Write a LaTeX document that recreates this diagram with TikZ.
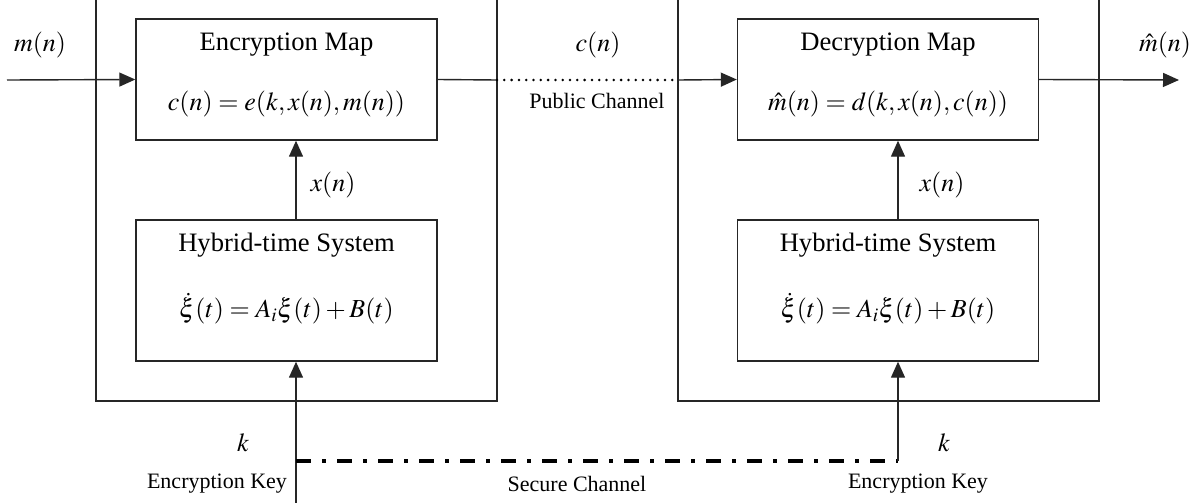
\documentclass[tikz,border=0pt]{standalone}
\usepackage{mathptmx}
\usepackage{fontspec}
\setmainfont{Liberation Serif}
\usetikzlibrary{arrows.meta}
\tikzset{
  x=1pt, y=-1pt,
  line/.style={line width=1.4pt, draw=black!85},
  arr/.style={line, -{Triangle[length=16pt,width=14pt]}},
  mapbox/.style={line, rectangle, inner sep=0pt, minimum width=301pt, minimum height=121pt},
  sysbox/.style={line, rectangle, inner sep=0pt, minimum width=301pt, minimum height=141pt},
  big/.style={font=\fontsize{26.6}{30}\selectfont},
  eq/.style={font=\fontsize{26}{30}\selectfont},
  small/.style={font=\fontsize{22}{26}\selectfont},
  publicch/.style={line width=2.8pt, draw=black, line cap=round, dash pattern=on 0pt off 7.3pt},
  securech/.style={line width=4pt, draw=black, dash pattern=on 15pt off 11pt on 4pt off 11pt},
}
\begin{document}
\begin{tikzpicture}
\useasboundingbox (0,0) rectangle (1202,503);
% transmitter and receiver enclosures (their tops run off the page)
\draw[line] (96,-10) rectangle (497,401);
\draw[line] (678,-10) rectangle (1099,401);
% blocks
\node[mapbox] (enc) at (286.5,79.5) {};
\node[mapbox] (dec) at (888,79.5) {};
\node[sysbox] (hybL) at (286.5,290.5) {};
\node[sysbox] (hybR) at (888,290.5) {};
\node[big] (encT) at (286.5,45) {Encryption Map};
\node[eq] (encF) at (286.5,104) {$c(n)=e(k,x(n),m(n))$};
\node[big] (decT) at (888,45) {Decryption Map};
\node[eq] (decF) at (888,104) {$\hat{m}(n)=d(k,x(n),c(n))$};
\node[big] (hLT) at (286.5,245) {Hybrid-time System};
\node[eq] (hLF) at (286.5,309) {$\dot{\xi}(t)=A_i\xi(t)+B(t)$};
\node[big] (hRT) at (888,245) {Hybrid-time System};
\node[eq] (hRF) at (888,309) {$\dot{\xi}(t)=A_i\xi(t)+B(t)$};
% signal labels
\node[eq] (mlab) at (40,45) {$m(n)$};
\node[eq] (clab) at (598,45) {$c(n)$};
\node[eq] (mhat) at (1165,45) {$\hat{m}(n)$};
\node[small] (pub) at (597,101) {Public Channel};
\node[eq] (xL) at (333,185) {$x(n)$};
\node[eq] (xR) at (942,185) {$x(n)$};
\node[eq] (kL) at (243,443) {$k$};
\node[eq] (kR) at (944,443) {$k$};
\node[small] (ekL) at (217,484) {Encryption Key};
\node[small] (ekR) at (918,484) {Encryption Key};
\node[small] (sec) at (577,484) {Secure Channel};
% coordinates for free ends and channel breaks
\coordinate (min) at (7,80);
\coordinate (mout) at (1179,80);
\coordinate (pubA) at (497,80);
\coordinate (pubB) at (678,80);
\coordinate (keyIn) at (296,510);
\coordinate (secA) at (296,461);
\coordinate (secB) at (898,461);
% connectors
\draw[arr] (min) -- (enc.west);
\draw[line] (enc.east) -- (pubA);
\draw[publicch] (pubA) -- (pubB);
\draw[arr] (pubB) -- (dec.west);
\draw[arr] (dec.east) -- (mout);
\draw[arr] (hybL.north -| 296,0) -- (enc.south -| 296,0);
\draw[arr] (hybR.north -| 898,0) -- (dec.south -| 898,0);
\draw[arr] (keyIn) -- (hybL.south -| 296,0);
\draw[securech] (secA) -- (secB);
\draw[arr] (secB) -- (hybR.south -| 898,0);
\end{tikzpicture}
\end{document}
